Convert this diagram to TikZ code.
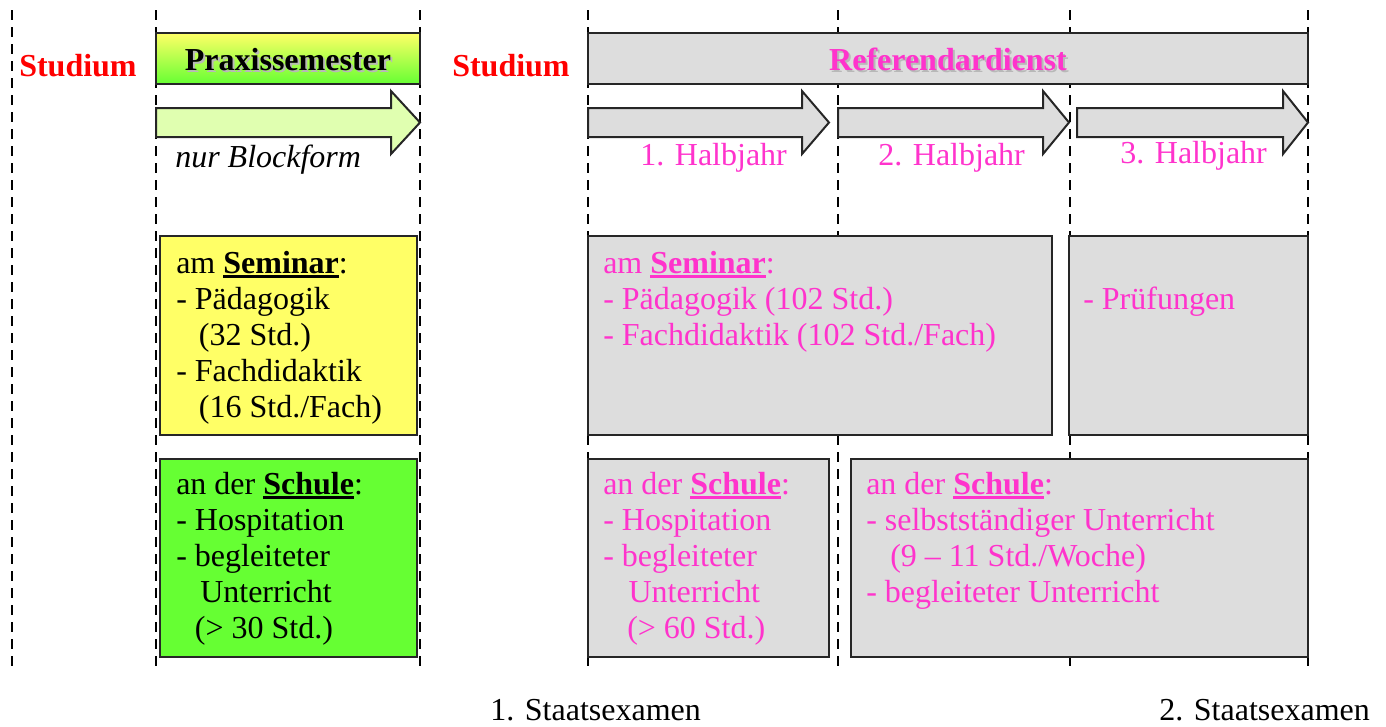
\documentclass[tikz,border=0pt]{standalone}
\usepackage{fontspec}
\setmainfont{Liberation Serif}
\definecolor{pinkt}{HTML}{FF33CC}
\definecolor{grayf}{HTML}{DDDDDD}
\definecolor{yel}{HTML}{FFFF66}
\definecolor{grn}{HTML}{66FF33}
\definecolor{lgrn}{HTML}{E0FFB0}
\definecolor{redt}{HTML}{FF0000}
\definecolor{shadowc}{HTML}{B8B8B8}
\newcommand\myul[1]{\setbox0\hbox{#1}\rlap{\rule[-3.75pt]{\wd0}{2.25pt}}\box0}
\newcommand\fst{\rule{0pt}{18pt}}
\begin{document}
\begin{tikzpicture}[x=0.75pt,y=-0.75pt,
  txt/.style={inner sep=0pt, font=\fontsize{24}{27}\selectfont, align=left},
  boxline/.style={draw=black!85, line width=1.5pt, line join=miter},
  guide/.style={line width=2.2pt, dash pattern=on 7.5pt off 5.25pt},
  head/.style={txt, font=\fontsize{24}{27}\selectfont\bfseries, anchor=base}]
\useasboundingbox (0,0) rectangle (1386,726);

% dashed guide lines
\foreach \gx in {12,156,420,588,838,1070,1308}
  \draw[guide] (\gx,10) -- (\gx,673);

% top bars
\shade[top color=yel, bottom color=grn] (156,33) rectangle (420,84);
\draw[boxline] (156,33) rectangle (420,84);
\filldraw[fill=grayf, boxline] (588,33) rectangle (1308,84);

\node[head, text=shadowc] at (290,72) {Praxissemester};
\node[head] (praxis) at (288,70) {Praxissemester};
\node[head, text=shadowc] at (950,72) {Referendardienst};
\node[head, text=pinkt] (ref) at (948,70) {Referendardienst};

\node[head, text=redt, anchor=base west] (stud1) at (19,76) {Studium};
\node[head, text=redt, anchor=base west] (stud2) at (452,76) {Studium};

% arrows
\filldraw[fill=lgrn, boxline] (156,108) -- (391,108) -- (391,91) -- (420,122.5) -- (391,154) -- (391,137) -- (156,137) -- cycle;
\filldraw[fill=grayf, boxline] (588,108) -- (802,108) -- (802,91) -- (829,122.5) -- (802,154) -- (802,137) -- (588,137) -- cycle;
\filldraw[fill=grayf, boxline] (838,108) -- (1043,108) -- (1043,91) -- (1069,122.5) -- (1043,154) -- (1043,137) -- (838,137) -- cycle;
\filldraw[fill=grayf, boxline] (1077,108) -- (1283,108) -- (1283,91) -- (1308,122.5) -- (1283,154) -- (1283,137) -- (1077,137) -- cycle;

\node[txt, anchor=base west] (block) at (175,167) {\textit{nur Blockform}};
\node[txt, anchor=base west, text=pinkt] (hj1) at (640,165) {1. Halbjahr};
\node[txt, anchor=base west, text=pinkt] (hj2) at (878,165) {2. Halbjahr};
\node[txt, anchor=base west, text=pinkt] (hj3) at (1120,163) {3. Halbjahr};

% boxes
\filldraw[fill=yel, boxline] (160,236) rectangle (417,435);
\filldraw[fill=grn, boxline] (160,459) rectangle (417,657);
\filldraw[fill=grayf, boxline] (588,236) rectangle (1052,435);
\filldraw[fill=grayf, boxline] (1069,236) rectangle (1308,435);
\filldraw[fill=grayf, boxline] (588,459) rectangle (829,657);
\filldraw[fill=grayf, boxline] (851,459) rectangle (1308,657);

\node[txt, anchor=north west] (semA) at (176,249) {\fst am \myul{\textbf{Seminar}}:\\- Pädagogik\\\hspace*{17pt}(32 Std.)\\- Fachdidaktik\\\hspace*{17pt}(16 Std./Fach)};
\node[txt, anchor=north west] (schA) at (176,470) {\fst an der \myul{\textbf{Schule}}:\\- Hospitation\\- begleiteter\\\hspace*{18pt}Unterricht\\\hspace*{14pt}(> 30 Std.)};
\node[txt, anchor=north west, text=pinkt] (semB) at (603,249) {\fst am \myul{\textbf{Seminar}}:\\- Pädagogik (102 Std.)\\- Fachdidaktik (102 Std./Fach)};
\node[txt, anchor=north west, text=pinkt] (pruef) at (1083,285) {\fst - Prüfungen};
\node[txt, anchor=north west, text=pinkt] (schB) at (603,470) {\fst an der \myul{\textbf{Schule}}:\\- Hospitation\\- begleiteter\\\hspace*{19pt}Unterricht\\\hspace*{18pt}(> 60 Std.)};
\node[txt, anchor=north west, text=pinkt] (schC) at (866,470) {\fst an der \myul{\textbf{Schule}}:\\- selbstständiger Unterricht\\\hspace*{18pt}(9 – 11 Std./Woche)\\- begleiteter Unterricht};

% exams
\node[txt, anchor=base west] (ex1) at (490,720) {1. Staatsexamen};
\node[txt, anchor=base west] (ex2) at (1159,720) {2. Staatsexamen};
\end{tikzpicture}
\end{document}
